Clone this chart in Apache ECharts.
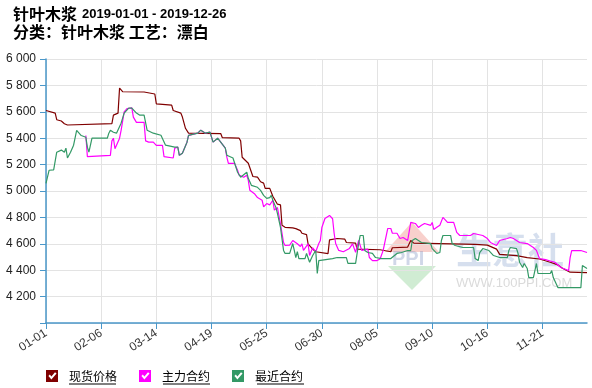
<!DOCTYPE html>
<html><head><meta charset="utf-8">
<script src="https://cdn.jsdelivr.net/npm/echarts@6/dist/echarts.min.js"></script>
<style>html,body{margin:0;padding:0;background:#fff}#c{width:592px;height:388px}</style>
</head><body><div id="c"></div>
<script>
// ---- data ----
var titleLine1 = '针叶木浆';
var titleDates = '2019-01-01 - 2019-12-26';
var titleLine2 = '分类：针叶木浆 工艺：漂白';
var seriesNames = ['现货价格', '主力合约', '最近合约'];
var startDate = [2019, 0, 1];
var dayCount = 354;
var yTicks = { min: 4000, max: 6000, step: 200 };

// [day index from 01-01, value]
var spotPrice = [[0,5610],[1,5600],[6,5590],[7,5540],[10,5530],[12,5510],[14,5500],[15,5510],[43,5510],[44,5575],[47,5590],[48,5780],[50,5752],[64,5750],[65,5735],[71,5735],[72,5660],[82,5650],[83,5610],[84,5597],[88,5590],[89,5560],[91,5475],[93,5438],[114,5435],[115,5405],[126,5400],[127,5380],[128,5256],[130,5233],[132,5210],[133,5195],[135,5110],[138,5105],[140,5070],[142,5060],[143,5020],[146,5020],[148,4960],[149,4950],[151,4900],[153,4895],[154,4740],[156,4725],[161,4720],[163,4715],[166,4700],[167,4680],[170,4670],[171,4600],[174,4560],[176,4540],[177,4525],[184,4525],[185,4630],[190,4640],[195,4635],[196,4610],[202,4605],[203,4560],[218,4555],[219,4540],[225,4540],[226,4570],[236,4575],[238,4625],[240,4605],[265,4600],[280,4595],[288,4590],[294,4560],[296,4520],[307,4510],[314,4495],[322,4485],[329,4460],[334,4440],[337,4415],[342,4385],[353,4382]];

var mainContract = [[26,5420],[27,5260],[28,5270],[42,5270],[43,5380],[44,5400],[45,5320],[46,5320],[48,5400],[49,5460],[51,5600],[53,5625],[56,5630],[57,5560],[59,5520],[64,5520],[65,5380],[67,5370],[70,5370],[72,5345],[76,5345],[77,5260],[78,5250],[83,5250],[84,5325],[86,5332],[87,5270],[89,5286],[92,5370],[93,5422],[99,5438],[101,5461],[102,5461],[104,5438],[107,5446],[109,5370],[112,5400],[114,5370],[117,5324],[118,5256],[119,5210],[123,5210],[125,5157],[126,5120],[129,5104],[131,5119],[132,5080],[133,5005],[136,4980],[138,4950],[141,4930],[142,4880],[144,4905],[146,4895],[148,4930],[149,4855],[151,4875],[153,4750],[155,4610],[156,4587],[159,4590],[161,4625],[164,4600],[166,4580],[167,4600],[168,4550],[171,4600],[172,4512],[174,4570],[176,4540],[177,4550],[178,4602],[179,4625],[180,4724],[182,4792],[185,4815],[187,4790],[188,4680],[189,4602],[191,4550],[194,4540],[198,4565],[200,4600],[202,4535],[204,4625],[206,4550],[210,4560],[211,4496],[213,4473],[216,4473],[218,4485],[220,4550],[223,4716],[225,4716],[226,4680],[229,4680],[231,4640],[233,4648],[236,4625],[238,4762],[241,4754],[243,4724],[245,4740],[247,4754],[251,4740],[252,4762],[253,4709],[255,4725],[257,4740],[259,4800],[260,4815],[262,4762],[266,4762],[268,4686],[270,4663],[277,4663],[279,4678],[285,4663],[288,4640],[290,4610],[294,4587],[296,4625],[301,4640],[303,4648],[305,4640],[307,4625],[309,4610],[314,4602],[316,4587],[318,4572],[320,4550],[322,4488],[326,4480],[329,4470],[332,4460],[336,4420],[337,4413],[341,4397],[342,4496],[343,4549],[349,4549],[353,4534]];

var nearestContract = [[0,5058],[2,5157],[5,5160],[7,5294],[10,5310],[12,5294],[13,5325],[14,5250],[16,5294],[18,5347],[20,5460],[23,5420],[26,5407],[27,5332],[28,5294],[30,5400],[40,5400],[41,5438],[42,5460],[44,5445],[46,5438],[49,5514],[51,5590],[54,5628],[56,5628],[59,5590],[61,5575],[62,5590],[64,5575],[66,5460],[70,5438],[75,5422],[78,5347],[84,5332],[86,5332],[87,5270],[89,5286],[92,5370],[93,5422],[99,5438],[101,5461],[102,5461],[104,5438],[107,5446],[109,5370],[112,5400],[114,5370],[117,5324],[118,5271],[122,5250],[125,5142],[127,5104],[131,5142],[132,5096],[134,5043],[138,5028],[140,5005],[142,4967],[144,4944],[146,4950],[147,4967],[148,4930],[150,4876],[151,4830],[153,4724],[155,4550],[156,4527],[159,4527],[161,4602],[162,4550],[163,4496],[164,4540],[165,4488],[166,4473],[167,4488],[169,4488],[170,4527],[172,4460],[174,4511],[176,4549],[177,4375],[178,4473],[187,4488],[190,4496],[196,4496],[197,4451],[202,4451],[203,4527],[204,4602],[205,4663],[207,4663],[208,4549],[210,4534],[213,4527],[215,4496],[219,4488],[225,4488],[229,4527],[232,4534],[236,4549],[238,4549],[239,4625],[241,4640],[245,4610],[251,4602],[252,4564],[255,4527],[257,4534],[258,4625],[259,4663],[264,4663],[265,4602],[267,4587],[272,4572],[279,4572],[280,4488],[282,4473],[283,4534],[285,4564],[289,4549],[292,4511],[296,4496],[301,4496],[302,4549],[303,4572],[307,4564],[308,4527],[309,4460],[311,4420],[312,4451],[313,4451],[314,4413],[315,4344],[318,4344],[319,4397],[320,4451],[321,4375],[329,4375],[330,4397],[331,4344],[334,4268],[349,4268],[350,4435],[353,4413]];

// ---- categories ----
var categories = [];
(function(){
  var t0 = Date.UTC(startDate[0], startDate[1], startDate[2]);
  for (var i = 0; i < dayCount; i++) {
    var d = new Date(t0 + i * 86400000);
    var m = d.getUTCMonth() + 1, dd = d.getUTCDate();
    categories.push((m < 10 ? '0' : '') + m + '-' + (dd < 10 ? '0' : '') + dd);
  }
})();

var colors = ['#800000', '#ff00ff', '#339966'];
var checkIcon = 'path://M0,0L100,0L100,100L0,100Z M20,50L45,80L88,30L75,18L45,55L32,38Z';
var axisBlue = '#4a97c9';

var chart = echarts.init(document.getElementById('c'));
chart.setOption({
  animation: false,
  backgroundColor: '#fff',
  color: colors,
  title: [{
    left: 13, top: 5, padding: 0,
    text: '{b|' + titleLine1 + '} {d|' + titleDates + '}',
    textStyle: { rich: {
      b: { fontFamily: 'Noto Sans CJK SC', fontWeight: 'bold', fontSize: 16, color: '#000' },
      d: { fontFamily: 'Liberation Sans', fontSize: 13, color: '#000' }
    } }
  }, {
    left: 13, top: 24, padding: 0,
    text: titleLine2,
    textStyle: { fontFamily: 'Noto Sans CJK SC', fontWeight: 'bold', fontSize: 16, color: '#000' }
  }],
  legend: {
    left: 46, top: 370, padding: 0,
    itemWidth: 12, itemHeight: 13, itemGap: 22,
    icon: checkIcon,
    textStyle: { fontFamily: 'Noto Sans CJK SC', fontSize: 12, color: '#000', padding: [0, 0, 0, 6] },
    data: seriesNames
  },
  grid: { left: 46, right: 5, top: 59, bottom: 65, containLabel: false },
  xAxis: {
    type: 'category', boundaryGap: false, data: categories,
    axisLine: { lineStyle: { color: axisBlue, width: 1.5 } },
    axisTick: { interval: 35, length: 6, lineStyle: { color: axisBlue } },
    axisLabel: { interval: 35, rotate: 33, color: '#333', fontFamily: 'Liberation Sans', fontSize: 12, margin: 9 },
    splitLine: { show: true, interval: 35, lineStyle: { color: '#e3e3e3' } }
  },
  yAxis: {
    type: 'value', min: yTicks.min, max: yTicks.max, interval: yTicks.step,
    axisLine: { show: true, lineStyle: { color: axisBlue, width: 1.5 } },
    axisTick: { show: true, length: 6, lineStyle: { color: axisBlue } },
    axisLabel: { color: '#222', fontFamily: 'Liberation Sans', fontSize: 12, margin: 10,
      formatter: function (v) { if (v === yTicks.min) return ''; var s = String(v); return s.slice(0, s.length - 3) + ' ' + s.slice(-3); } },
    splitLine: { lineStyle: { color: '#e3e3e3' } }
  },
  graphic: [
    { type: 'polygon', z: 0, shape: { points: [[412, 222], [385, 252], [439, 252]] }, style: { fill: 'rgba(235,120,110,0.35)' } },
    { type: 'polygon', z: 0, shape: { points: [[388, 266], [436, 266], [412, 290]] }, style: { fill: 'rgba(120,200,130,0.35)' } },
    { type: 'text', z: 0, left: 392, top: 249, style: { text: 'PPI', font: 'bold 20px Liberation Sans', fill: 'rgba(120,140,190,0.35)' } },
    { type: 'text', z: 0, left: 456, top: 232, style: { text: '生意社', font: 'bold 36px Noto Sans CJK SC', fill: 'rgba(120,150,200,0.3)' } },
    { type: 'text', z: 0, left: 456, top: 277, style: { text: 'WWW.100PPI.COM', font: '13px Liberation Sans', fill: 'rgba(150,150,150,0.35)' } },
    { type: 'line', z: 0, shape: { x1: 69, y1: 384, x2: 116, y2: 384 }, style: { stroke: '#000', lineWidth: 1 } },
    { type: 'line', z: 0, shape: { x1: 163, y1: 384, x2: 210, y2: 384 }, style: { stroke: '#000', lineWidth: 1 } },
    { type: 'line', z: 0, shape: { x1: 257, y1: 384, x2: 304, y2: 384 }, style: { stroke: '#000', lineWidth: 1 } }
  ],
  series: [
    { name: seriesNames[0], type: 'line', data: spotPrice, showSymbol: false, lineStyle: { width: 1.2, color: colors[0] }, z: 3 },
    { name: seriesNames[1], type: 'line', data: mainContract, showSymbol: false, lineStyle: { width: 1.2, color: colors[1] }, z: 3 },
    { name: seriesNames[2], type: 'line', data: nearestContract, showSymbol: false, lineStyle: { width: 1.2, color: colors[2] }, z: 3 }
  ]
});
</script></body></html>
